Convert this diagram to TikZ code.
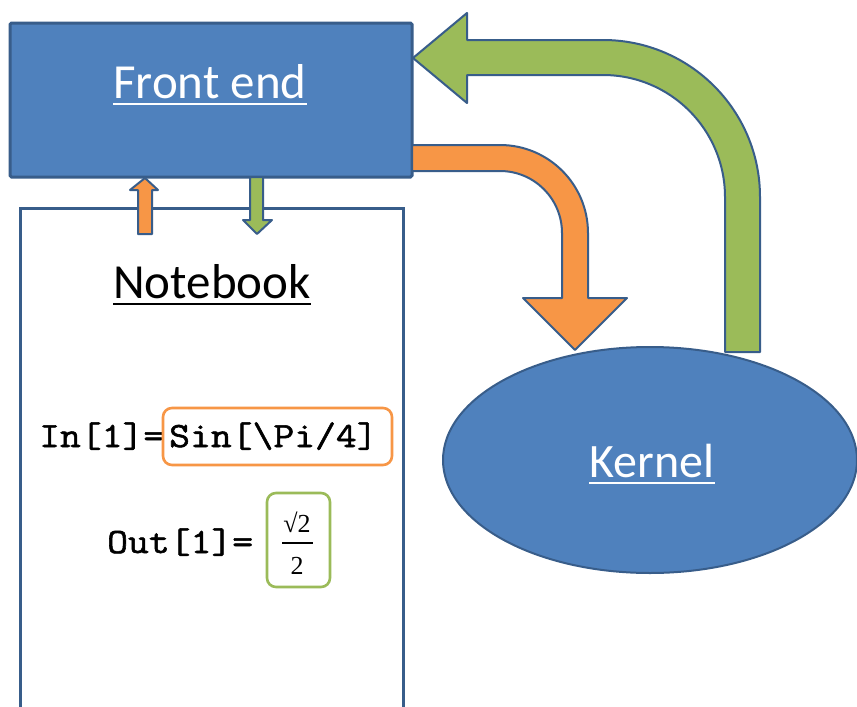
\documentclass[tikz,border=0pt]{standalone}
\usepackage{fontspec}
\setmainfont{Carlito}
\newfontfamily\codefont[FakeStretch=1.14, FakeBold=1.6]{Latin Modern Mono}
\newfontfamily\mathserif{Liberation Serif}
\usetikzlibrary{shapes.geometric}

\definecolor{boxblue}{HTML}{4F81BD}
\definecolor{edgeblue}{HTML}{385D8A}
\definecolor{accorange}{HTML}{F79646}
\definecolor{accgreen}{HTML}{9BBB59}

\tikzset{
  blockfill/.style={draw=edgeblue, line width=2pt, line join=round},
  title/.style={text=white, font=\fontsize{49}{55}\selectfont, inner sep=0pt, anchor=base},
  uline/.style={draw=white, line width=2pt},
  code/.style={font=\codefont\fontsize{35.5}{39}\selectfont, inner sep=0pt, anchor=base},
  cellbox/.style={rounded corners=9pt, line width=2.6pt},
  fracnum/.style={anchor=base, inner sep=0pt, font=\mathserif\fontsize{26}{30}\selectfont},
}

\begin{document}
\begin{tikzpicture}[x=1pt, y=-1pt]
  \clip (0,0) rectangle (857,707);
  \fill[white] (0,0) rectangle (857,707);

  % Notebook window (open at the bottom)
  \node[draw=edgeblue, line width=3pt, fill=white, minimum width=383pt,
        minimum height=520pt, inner sep=0pt] (nb) at (211.5,468) {};

  % Front end box
  \node[draw=edgeblue, fill=boxblue, line width=3pt, rounded corners=1.5pt,
        minimum width=402pt, minimum height=154pt, inner sep=0pt] (fe) at (211,100) {};
  \node[title] (fetext) at (210,98) {Front end};
  \draw[uline] ([yshift=-6pt]fetext.base west) -- ([yshift=-6pt]fetext.base east);

  % Kernel ellipse
  \node[ellipse, draw=edgeblue, fill=boxblue, line width=2pt, minimum width=414pt,
        minimum height=226pt, inner sep=0pt] (kernel) at (650,460) {};
  \node[title, font=\fontsize{48}{54}\selectfont] (ktext) at (652,477) {Kernel};
  \draw[uline] ([yshift=-6pt]ktext.base west) -- ([yshift=-6pt]ktext.base east);

  % Notebook title
  \node[anchor=base, inner sep=0pt, font=\fontsize{49}{55}\selectfont] (nbtext) at (212,298) {Notebook};
  \draw[line width=2pt] ([yshift=-6pt]nbtext.base west) -- ([yshift=-6pt]nbtext.base east);

  % Orange bent arrow: front end -> kernel
  \draw[blockfill, fill=accorange]
    (412,145) -- (500,145) arc (-90:0:88) -- (588,298) -- (627,298)
    -- (575,350) -- (523,298) -- (562,298) -- (562,233) arc (0:-90:62)
    -- (412,171) -- cycle;

  % Green bent arrow: kernel -> front end
  \draw[blockfill, fill=accgreen]
    (413,58) -- (467,13) -- (467,40) -- (603,40) arc (-90:0:157)
    -- (760,352) -- (725,352) -- (725,197) arc (0:-90:122)
    -- (467,75) -- (467,103) -- cycle;

  % Small arrows between notebook and front end
  \draw[blockfill, fill=accorange]
    (145,178) -- (158,190) -- (152,190) -- (152,234) -- (138,234) -- (138,190)
    -- (130,190) -- cycle;
  \draw[blockfill, fill=accgreen]
    (250,177) -- (263,177) -- (263,220) -- (272,220) -- (257,234) -- (243,220)
    -- (250,220) -- cycle;

  % Input cell
  \node[code, anchor=base west] (inlbl) at (39,447) {In[1]=};
  \node[draw=accorange, cellbox, minimum width=229pt, minimum height=57pt, inner sep=0pt]
    (inbox) at (277.5,436.5) {};
  \node[code, anchor=base west] (incode) at (169,447) {Sin[\textbackslash Pi/4]};

  % Output cell
  \node[code, anchor=base west] (outlbl) at (107,553) {Out[1]=};
  \node[draw=accgreen, cellbox, minimum width=63pt, minimum height=94pt, inner sep=0pt]
    (outbox) at (298.5,540) {};
  \node[fracnum] (num) at (297,532) {√2};
  \node[fracnum] (den) at (297,574) {2};
  \draw[line width=1.5pt] (282,543) -- (313,543);
\end{tikzpicture}
\end{document}
